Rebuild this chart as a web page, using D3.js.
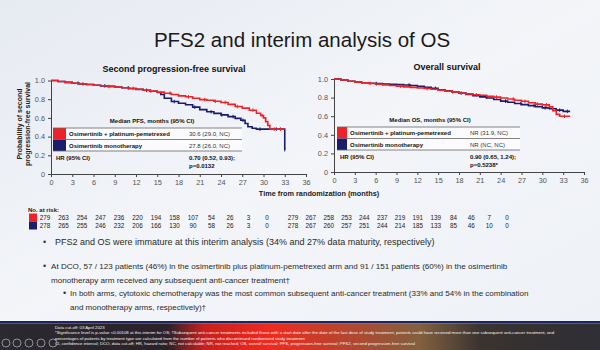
<!DOCTYPE html>
<html>
<head>
<meta charset="utf-8">
<script src="https://cdn.jsdelivr.net/npm/d3@7"></script>
<style>
  body { margin: 0; background: #eef1f6; }
  svg { display: block; font-family: "Liberation Sans", Arial, sans-serif; }
</style>
</head>
<body>
<div id="chart"></div>
<script>
////////////////////////////////////////////////////////////////////////
// Data

let monthTicks = [0, 3, 6, 9, 12, 15, 18, 21, 24, 27, 30, 33, 36];
let probTicks = [0, 0.2, 0.4, 0.6, 0.8, 1.0];

// PFS2 Kaplan-Meier steps [month, probability]
let pfsCombo = [[0,1],[1,0.99],[2,0.98],[3,0.97],[4,0.965],[5,0.958],[6,0.95],[7,0.944],[8,0.937],
  [9,0.93],[10,0.923],[11,0.915],[12,0.906],[13,0.896],[14,0.886],[15,0.876],[16,0.864],[17,0.85],
  [18,0.836],[19,0.826],[20,0.81],[21,0.795],[22,0.788],[23,0.778],[24,0.765],[25,0.745],[26,0.722],
  [27,0.705],[28,0.682],[29,0.65],[29.6,0.625],[30,0.6],[30.3,0.56],[30.6,0.52],[30.9,0.48],[33,0.48]];
let pfsMono = [[0,1],[1,0.99],[2,0.98],[3,0.97],[4,0.964],[5,0.957],[6,0.95],[7,0.943],[8,0.937],
  [9,0.93],[10,0.922],[11,0.914],[12,0.905],[13,0.895],[14,0.885],[15,0.872],[15.5,0.85],[16,0.81],
  [17,0.775],[18,0.757],[19,0.74],[20,0.715],[21,0.688],[22,0.665],[23,0.648],[24,0.632],[25,0.614],
  [26,0.595],[26.8,0.575],[27.4,0.54],[27.8,0.505],[28.4,0.49],[29,0.48],[33,0.48],[33,0.26]];
let pfsComboCens = [4.5, 8.2, 11.6, 14.1, 16.8, 19.4, 21.7, 23.2, 24.6, 26.3, 28.5, 29.8, 31.5, 32.4];
let pfsMonoCens = [3.8, 7.6, 10.9, 13.5, 17.4, 20.3, 22.6, 24.1, 25.7, 27.1, 29.5, 31.8, 33];

// OS Kaplan-Meier steps
let osCombo = [[0,1],[1,0.99],[2,0.976],[3,0.966],[4,0.958],[5,0.952],[6,0.945],[7,0.936],[8,0.93],
  [9,0.922],[10,0.915],[11,0.91],[12,0.904],[13,0.898],[14,0.89],[15,0.88],[16,0.87],[17,0.86],
  [18,0.848],[19,0.84],[20,0.83],[21,0.825],[22,0.815],[23,0.805],[24,0.795],[25,0.785],[26,0.772],
  [27,0.76],[28,0.745],[29,0.73],[30,0.722],[31,0.7],[31.5,0.66],[32,0.62],[32.5,0.6],[34,0.6]];
let osMono = [[0,1],[1,0.99],[2,0.976],[3,0.966],[4,0.96],[5,0.955],[6,0.95],[7,0.946],[8,0.943],
  [9,0.94],[10,0.935],[11,0.93],[12,0.921],[13,0.911],[14,0.9],[15,0.885],[16,0.872],[17,0.86],
  [18,0.848],[19,0.834],[20,0.82],[21,0.808],[22,0.795],[23,0.78],[24,0.762],[25,0.75],[26,0.736],
  [27,0.725],[28,0.714],[29,0.702],[30,0.69],[31,0.68],[32,0.665],[33,0.652],[34,0.652]];
let osComboCens = [5.2, 9.6, 13.4, 17.1, 20.5, 23.4, 25.8, 27.5, 29.3, 30.6, 33.2];
let osMonoCens = [6.1, 10.8, 14.6, 18.3, 21.9, 24.7, 26.9, 28.8, 30.4, 32.5, 33.6];

// Numbers at risk
let riskPfsCombo = [279, 263, 254, 247, 236, 220, 194, 158, 107, 54, 26, 3, 0];
let riskPfsMono = [278, 265, 255, 246, 232, 206, 166, 130, 90, 58, 26, 3, 0];
let riskOsCombo = [279, 267, 258, 253, 244, 237, 219, 191, 139, 84, 46, 7, 0];
let riskOsMono = [278, 267, 260, 257, 251, 244, 214, 185, 133, 85, 46, 10, 0];

// Legend tables
let armNames = ["Osimertinib + platinum-pemetrexed", "Osimertinib monotherapy"];
let pfsMedians = ["30.6 (29.0, NC)", "27.8 (26.0, NC)"];
let osMedians = ["NR (31.9, NC)", "NR (NC, NC)"];
let pfsHr = ["0.70 (0.52, 0.93);", "p=0.0132"];
let osHr = ["0.90 (0.65, 1.24);", "p=0.5238*"];

let bullets = [
  { x: 43, tx: 55, y: 245, size: 9, lines: ["PFS2 and OS were immature at this interim analysis (34% and 27% data maturity, respectively)"] },
  { x: 43, tx: 51, y: 269, size: 8.1, lines: ["At DCO, 57 / 123 patients (46%) in the osimertinib plus platinum-pemetrexed arm and 91 / 151 patients (60%) in the osimertinib",
                                   "monotherapy arm received any subsequent anti-cancer treatment\u2020"] },
  { x: 63, tx: 70, y: 296, size: 8, lines: ["In both arms, cytotoxic chemotherapy was the most common subsequent anti-cancer treatment (33% and 54% in the combination",
                                   "and monotherapy arms, respectively)\u2020"] }
];

let footnotes = [
  "Data cut-off: 03 April 2023",
  "*Significance level is p-value <0.00108 at this interim for OS; \u2020Subsequent anti-cancer treatments included those with a start date after the date of the last dose of study treatment; patients could have received more than one subsequent anti-cancer treatment, and",
  "percentages of patients by treatment type are calculated from the number of patients who discontinued randomized study treatment",
  "CI, confidence interval; DCO, data cut-off; HR, hazard ratio; NC, not calculable; NR, not reached; OS, overall survival; PFS, progression-free survival; PFS2, second progression-free survival"
];

let red = "#ee2329";
let navy = "#1b1d6b";

////////////////////////////////////////////////////////////////////////
// Setup

let svg = d3.select("#chart").append("svg").attr("width", 600).attr("height", 350);

let defs = svg.append("defs");
let bg = defs.append("linearGradient").attr("id", "bg").attr("x1", 0).attr("x2", 1).attr("y1", 0).attr("y2", 1);
bg.append("stop").attr("offset", "0%").attr("stop-color", "#e6eaf1");
bg.append("stop").attr("offset", "50%").attr("stop-color", "#f3f5f9");
bg.append("stop").attr("offset", "100%").attr("stop-color", "#eef1f6");

let band = defs.append("linearGradient").attr("id", "band");
[["0%", "#2a2a30"], ["28%", "#2b2228"], ["34%", "#c8201c"], ["45%", "#f02a20"], ["55%", "#c0402a"],
 ["70%", "#82603f"], ["80%", "#3a3330"], ["100%", "#2e2e34"]].forEach(function (s) {
  band.append("stop").attr("offset", s[0]).attr("stop-color", s[1]);
});

svg.append("rect").attr("width", 600).attr("height", 322).attr("fill", "url(#bg)");

svg.append("text").attr("x", 302).attr("y", 47).attr("text-anchor", "middle")
  .attr("font-size", 20.5).attr("fill", "#1a1a1a").text("PFS2 and interim analysis of OS");

////////////////////////////////////////////////////////////////////////
// One Kaplan-Meier panel

function drawPanel(opts) {
  let x = d3.scaleLinear().domain([0, 36]).range(opts.xRange);
  let y = d3.scaleLinear().domain([0, 1]).range(opts.yRange);
  let g = svg.append("g");

  g.append("text").attr("x", opts.titleX).attr("y", opts.yRange[1] - 9).attr("text-anchor", "middle")
    .attr("font-size", 9).attr("font-weight", "bold").attr("fill", "#111").text(opts.title);

  let xAxis = g.append("g").attr("transform", "translate(0," + opts.yRange[0] + ")")
    .call(d3.axisBottom(x).tickValues(monthTicks).tickSize(3).tickSizeOuter(0).tickPadding(3));
  let yAxis = g.append("g").attr("transform", "translate(" + opts.xRange[0] + ",0)")
    .call(d3.axisLeft(y).tickValues(probTicks).tickSize(3).tickSizeOuter(0).tickPadding(3)
      .tickFormat(function (d) { return d === 0 ? "0" : d3.format(".1f")(d); }));
  [xAxis, yAxis].forEach(function (a) {
    a.selectAll("path, line").attr("stroke", "#444").attr("stroke-width", 1);
    a.selectAll("text").attr("font-size", 7.3).attr("fill", "#555").attr("font-family", "Liberation Sans, Arial, sans-serif");
  });

  let line = d3.line().curve(d3.curveStepAfter)
    .x(function (d) { return x(d[0]); }).y(function (d) { return y(d[1]); });

  function stepAt(data, t) {
    let v = data[0][1];
    data.forEach(function (d) { if (d[0] <= t) v = d[1]; });
    return v;
  }

  [[opts.mono, opts.monoCens, navy], [opts.combo, opts.comboCens, red]].forEach(function (s) {
    g.append("path").attr("d", line(s[0])).attr("fill", "none")
      .attr("stroke", s[2]).attr("stroke-width", 1.6);
    g.selectAll(null).data(s[1]).enter().append("line")
      .attr("x1", function (t) { return x(t); }).attr("x2", function (t) { return x(t); })
      .attr("y1", function (t) { return y(stepAt(s[0], t)) - 1.8; })
      .attr("y2", function (t) { return y(stepAt(s[0], t)) + 1.8; })
      .attr("stroke", s[2]).attr("stroke-width", 1);
  });

  // legend table
  let lx = opts.legend.x, lw = opts.legend.w, ly = opts.legend.y, rh = 11.5;
  let lg = g.append("g").attr("font-size", 6).attr("font-weight", "bold").attr("fill", "#111");
  lg.append("rect").attr("x", lx).attr("y", ly).attr("width", lw).attr("height", rh * 2)
    .attr("fill", "#fbfbfd");
  lg.append("text").attr("x", opts.legend.headX).attr("y", ly - 5).attr("text-anchor", "middle")
    .text(opts.legend.head);
  [red, navy].forEach(function (c, i) {
    lg.append("rect").attr("x", lx).attr("y", ly + i * rh).attr("width", opts.legend.sq).attr("height", rh).attr("fill", c);
    lg.append("text").attr("x", lx + opts.legend.sq + 3).attr("y", ly + i * rh + 8).text(armNames[i]);
    lg.append("text").attr("x", opts.legend.valX).attr("y", ly + i * rh + 8)
      .attr("font-weight", "normal").attr("fill", "#333").text(opts.legend.medians[i]);
  });
  [[ly, lx], [ly + rh, lx + opts.legend.sq], [ly + 2 * rh, lx]].forEach(function (l) {
    lg.append("line").attr("x1", l[1]).attr("x2", lx + lw).attr("y1", l[0]).attr("y2", l[0])
      .attr("stroke", "#666").attr("stroke-width", 0.8);
  });
  lg.append("text").attr("x", lx + 3).attr("y", ly + 2 * rh + 9).text("HR (95% CI)");
  opts.legend.hr.forEach(function (t, i) {
    lg.append("text").attr("x", opts.legend.valX).attr("y", ly + 2 * rh + 9 + i * 8).text(t);
  });

  // numbers at risk
  let rx = d3.scaleLinear().domain([0, 12]).range(opts.riskRange);
  [opts.riskCombo, opts.riskMono].forEach(function (row, i) {
    g.selectAll(null).data(row).enter().append("text")
      .attr("x", function (d, j) { return rx(j); }).attr("y", 220 + i * 8)
      .attr("text-anchor", "middle").attr("font-size", 6.3).attr("fill", "#222")
      .text(function (d) { return d; });
  });
}

drawPanel({
  title: "Second progression-free survival", titleX: 174,
  xRange: [51, 306], yRange: [174, 80.5],
  combo: pfsCombo, mono: pfsMono, comboCens: pfsComboCens, monoCens: pfsMonoCens,
  legend: { x: 53, y: 128, w: 189, sq: 13, valX: 189, headX: 152,
            head: "Median PFS, months (95% CI)", medians: pfsMedians, hr: pfsHr },
  riskCombo: riskPfsCombo, riskMono: riskPfsMono, riskRange: [45, 267]
});

drawPanel({
  title: "Overall survival", titleX: 447,
  xRange: [334, 584], yRange: [172, 79],
  combo: osCombo, mono: osMono, comboCens: osComboCens, monoCens: osMonoCens,
  legend: { x: 337, y: 127, w: 183, sq: 10, valX: 470, headX: 430,
            head: "Median OS, months (95% CI)", medians: osMedians, hr: osHr },
  riskCombo: riskOsCombo, riskMono: riskOsMono, riskRange: [293, 507]
});

// axis titles
svg.append("text").attr("transform", "translate(22,124) rotate(-90)").attr("text-anchor", "middle")
  .attr("font-size", 7).attr("font-weight", "bold").attr("fill", "#222").text("Probability of second");
svg.append("text").attr("transform", "translate(30,124) rotate(-90)").attr("text-anchor", "middle")
  .attr("font-size", 7).attr("font-weight", "bold").attr("fill", "#222").text("progression-free survival");
svg.append("text").attr("x", 319).attr("y", 196).attr("text-anchor", "middle")
  .attr("font-size", 7.3).attr("font-weight", "bold").attr("fill", "#222").text("Time from randomization (months)");

// at-risk header and swatches
svg.append("text").attr("x", 28).attr("y", 212).attr("font-size", 6).attr("font-weight", "bold")
  .attr("fill", "#222").text("No. at risk:");
svg.append("rect").attr("x", 29).attr("y", 213.5).attr("width", 8).attr("height", 8).attr("fill", red);
svg.append("rect").attr("x", 29).attr("y", 221.5).attr("width", 8).attr("height", 8).attr("fill", navy);

// bullets
bullets.forEach(function (b) {
  svg.append("text").attr("x", b.x).attr("y", b.y).attr("font-size", 9).attr("fill", "#333").text("\u2022");
  b.lines.forEach(function (l, i) {
    svg.append("text").attr("x", b.tx).attr("y", b.y + i * 13.5).attr("font-size", b.size)
      .attr("fill", "#2a2a2a").text(l);
  });
});

// bottom presentation strip
svg.append("rect").attr("x", 0).attr("y", 321).attr("width", 600).attr("height", 2.5).attr("fill", "#1c2560");
svg.append("rect").attr("x", 0).attr("y", 323.5).attr("width", 600).attr("height", 26.5).attr("fill", "url(#band)");
footnotes.forEach(function (f, i) {
  svg.append("text").attr("x", 55).attr("y", 328.5 + i * 5.5).attr("font-size", 4.3)
    .attr("fill", "#f4f4f4").text(f);
});
svg.selectAll(null).data([6, 17, 29, 41, 53]).enter().append("circle")
  .attr("cx", function (d) { return d; }).attr("cy", 343).attr("r", 4)
  .attr("fill", "none").attr("stroke", "#aaa").attr("stroke-width", 0.8);
</script>
</body>
</html>
